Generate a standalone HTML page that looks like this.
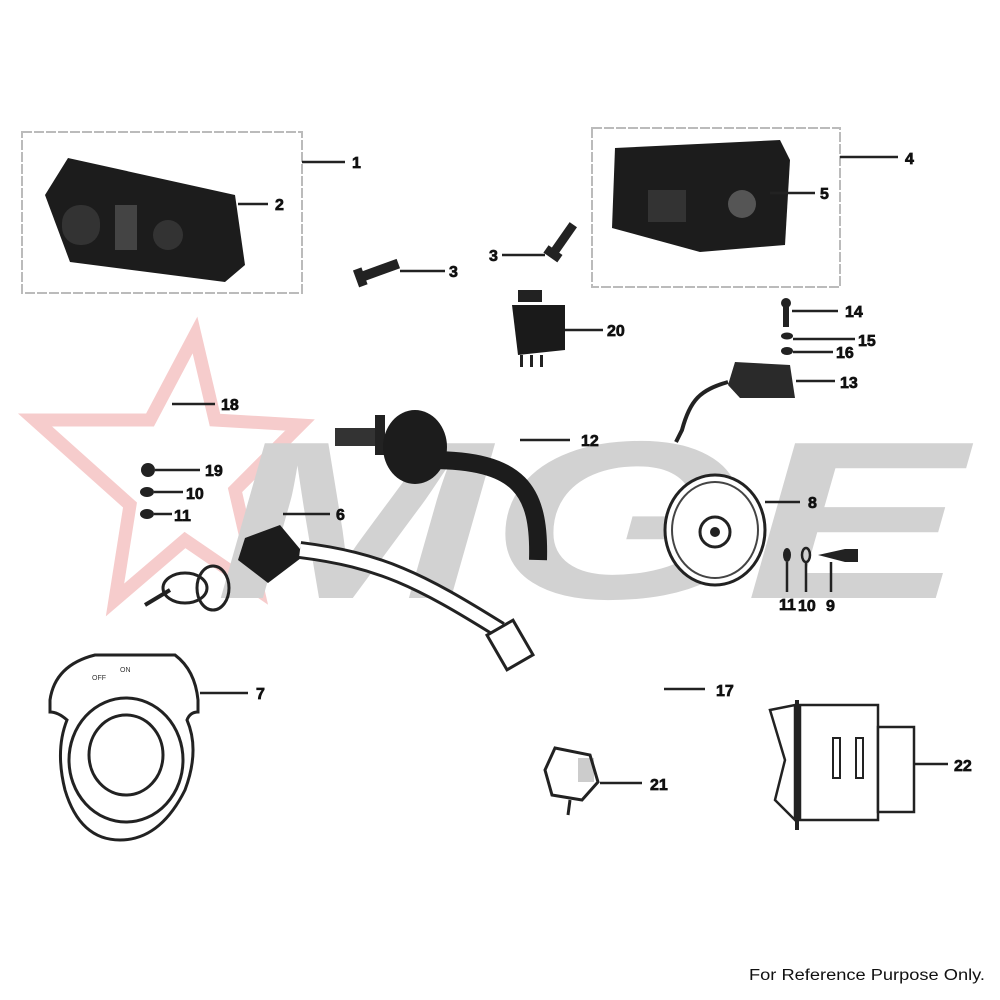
<!DOCTYPE html>
<html><head><meta charset="utf-8"><style>
html,body{margin:0;padding:0;background:#fff;}
svg{display:block;}
.ln{stroke:#222;stroke-width:2.5;}
</style></head><body>
<svg width="1000" height="1000" viewBox="0 0 1000 1000" xmlns="http://www.w3.org/2000/svg">
<polygon points="195,335 215,420 300,425 235,490 258,590 185,540 115,600 130,505 35,420 150,420" fill="none" stroke="#f6cccc" stroke-width="13" stroke-linejoin="miter"/>
<text x="215" y="598" font-family="Liberation Sans,sans-serif" font-style="italic" font-weight="bold" font-size="225" fill="#d2d2d2" textLength="750" lengthAdjust="spacingAndGlyphs">MGE</text>

<g font-family="Liberation Sans,sans-serif" font-weight="bold" font-size="16" fill="#111" stroke="#111" stroke-width="0.7">
<rect x="22" y="132" width="280" height="161" fill="none" stroke="#bbb" stroke-width="2" stroke-dasharray="10,2"/>
<line class="ln" x1="302" y1="162" x2="345" y2="162"/><text x="352" y="168">1</text>
<polygon points="68,158 235,195 245,265 225,282 70,262 45,195" fill="#1c1c1c" stroke="none"/>
<rect x="62" y="205" width="38" height="40" rx="18" fill="#333" stroke="none"/>
<rect x="115" y="205" width="22" height="45" fill="#444" stroke="none"/>
<circle cx="168" cy="235" r="15" fill="#333" stroke="none"/>
<line class="ln" x1="238" y1="204" x2="268" y2="204"/><text x="275" y="210">2</text>
<g transform="rotate(-20 378 272)" stroke="none"><rect x="360" y="266" width="40" height="10" fill="#222"/><rect x="355" y="262" width="9" height="18" fill="#222"/></g>
<line class="ln" x1="400" y1="271" x2="445" y2="271"/><text x="449" y="277">3</text>
<g transform="rotate(-55 562 240)" stroke="none"><rect x="545" y="236" width="36" height="9" fill="#222"/><rect x="541" y="232" width="9" height="17" fill="#222"/></g>
<line class="ln" x1="502" y1="255" x2="545" y2="255"/><text x="489" y="261">3</text>
<rect x="592" y="128" width="248" height="159" fill="none" stroke="#bbb" stroke-width="2" stroke-dasharray="10,2"/>
<line class="ln" x1="840" y1="157" x2="898" y2="157"/><text x="905" y="164">4</text>
<polygon points="615,148 780,140 790,160 785,245 700,252 612,228" fill="#1c1c1c" stroke="none"/>
<rect x="648" y="190" width="38" height="32" fill="#333" stroke="none"/>
<circle cx="742" cy="204" r="14" fill="#555" stroke="none"/>
<line class="ln" x1="770" y1="193" x2="815" y2="193"/><text x="820" y="199">5</text>
<g stroke="none">
<rect x="518" y="290" width="24" height="12" fill="#222"/>
<polygon points="512,305 565,305 565,350 518,355" fill="#1a1a1a"/>
<rect x="520" y="355" width="3" height="12" fill="#222"/><rect x="530" y="355" width="3" height="12" fill="#222"/><rect x="540" y="355" width="3" height="12" fill="#222"/>
<rect x="783" y="302" width="6" height="25" fill="#222"/><circle cx="786" cy="303" r="5" fill="#222"/>
<ellipse cx="787" cy="336" rx="6" ry="3.5" fill="#222"/>
<ellipse cx="787" cy="351" rx="6" ry="4" fill="#222"/>
<polygon points="735,362 790,365 795,398 740,398 728,385" fill="#2a2a2a"/>
<circle cx="148" cy="470" r="7" fill="#222"/>
<ellipse cx="147" cy="492" rx="7" ry="5" fill="#222"/>
<ellipse cx="147" cy="514" rx="7" ry="5" fill="#222"/>
<rect x="335" y="428" width="45" height="18" fill="#333"/>
<rect x="375" y="415" width="10" height="40" fill="#222"/>
<ellipse cx="415" cy="447" rx="32" ry="37" fill="#1c1c1c"/>
<polygon points="245,538 280,525 305,555 268,583 238,560" fill="#1c1c1c"/>
<ellipse cx="787" cy="555" rx="4" ry="7" fill="#222"/>
<polygon points="818,555 845,549 858,549 858,562 845,562" fill="#222"/>
<rect x="578" y="758" width="16" height="24" fill="#ccc"/>
<rect x="795" y="700" width="4" height="130" fill="#222"/>
</g>
<line class="ln" x1="565" y1="330" x2="603" y2="330"/><text x="607" y="336">20</text>
<line class="ln" x1="792" y1="311" x2="838" y2="311"/><text x="845" y="317">14</text>
<line class="ln" x1="793" y1="339" x2="855" y2="339"/><text x="858" y="346">15</text>
<line class="ln" x1="793" y1="352" x2="833" y2="352"/><text x="836" y="358">16</text>
<path d="M728,382 C700,390 690,400 682,430 L676,442" fill="none" stroke="#222" stroke-width="4"/>
<line class="ln" x1="796" y1="381" x2="835" y2="381"/><text x="840" y="388">13</text>
<line class="ln" x1="172" y1="404" x2="215" y2="404"/><text x="221" y="410">18</text>
<line class="ln" x1="155" y1="470" x2="200" y2="470"/><text x="205" y="476">19</text>
<line class="ln" x1="154" y1="492" x2="183" y2="492"/><text x="186" y="499">10</text>
<line class="ln" x1="154" y1="514" x2="172" y2="514"/><text x="174" y="521">11</text>
<path d="M430,460 C520,460 540,490 538,560" fill="none" stroke="#1c1c1c" stroke-width="18"/>
<line class="ln" x1="520" y1="440" x2="570" y2="440"/><text x="581" y="446">12</text>
<line class="ln" x1="283" y1="514" x2="330" y2="514"/><text x="336" y="520">6</text>
<path d="M300,550 C380,560 420,580 500,630" fill="none" stroke="#222" stroke-width="18"/>
<path d="M300,550 C380,560 420,580 500,630" fill="none" stroke="#fff" stroke-width="12"/>
<rect x="495" y="625" width="30" height="40" transform="rotate(-30 510 645)" fill="#fff" stroke="#222" stroke-width="3"/>
<ellipse cx="185" cy="588" rx="22" ry="15" fill="none" stroke="#222" stroke-width="3"/>
<ellipse cx="213" cy="588" rx="16" ry="22" fill="none" stroke="#222" stroke-width="3"/>
<line x1="145" y1="605" x2="170" y2="590" stroke="#222" stroke-width="4"/>
<ellipse cx="715" cy="530" rx="50" ry="55" fill="#fff" stroke="#222" stroke-width="3"/>
<ellipse cx="715" cy="530" rx="43" ry="48" fill="none" stroke="#444" stroke-width="2"/>
<circle cx="715" cy="532" r="15" fill="#fff" stroke="#222" stroke-width="3"/>
<circle cx="715" cy="532" r="5" fill="#222" stroke="none"/>
<line class="ln" x1="765" y1="502" x2="800" y2="502"/><text x="808" y="508">8</text>
<ellipse cx="806" cy="555" rx="4" ry="7" fill="none" stroke="#222" stroke-width="2.5"/>
<line class="ln" x1="787" y1="562" x2="787" y2="592"/><line class="ln" x1="806" y1="562" x2="806" y2="592"/><line class="ln" x1="831" y1="562" x2="831" y2="592"/>
<text x="779" y="610">11</text><text x="798" y="611">10</text><text x="826" y="611">9</text>
<path d="M95,655 L175,655 Q195,670 198,700 L198,712 Q190,712 187,720 Q200,750 185,790 Q160,840 120,840 Q80,840 65,790 Q55,750 67,720 Q58,712 50,712 L50,700 Q55,665 95,655 Z" fill="#fff" stroke="#222" stroke-width="3"/>
<ellipse cx="126" cy="760" rx="57" ry="62" fill="none" stroke="#222" stroke-width="3"/>
<ellipse cx="126" cy="755" rx="37" ry="40" fill="none" stroke="#222" stroke-width="3"/>
<text x="92" y="680" font-weight="normal" font-size="7" fill="#333" stroke="none">OFF</text><text x="120" y="672" font-weight="normal" font-size="7" fill="#333" stroke="none">ON</text>
<line class="ln" x1="200" y1="693" x2="248" y2="693"/><text x="256" y="699">7</text>
<line class="ln" x1="664" y1="689" x2="705" y2="689"/><text x="716" y="696">17</text>
<polygon points="555,748 590,755 598,782 582,800 552,795 545,770" fill="none" stroke="#222" stroke-width="3"/>
<line x1="570" y1="800" x2="568" y2="815" stroke="#222" stroke-width="3"/>
<line class="ln" x1="600" y1="783" x2="642" y2="783"/><text x="650" y="790">21</text>
<polygon points="770,710 795,705 795,820 775,800 785,760" fill="#fff" stroke="#222" stroke-width="2.5"/>
<rect x="800" y="705" width="78" height="115" fill="#fff" stroke="#222" stroke-width="2.5"/>
<rect x="878" y="727" width="36" height="85" fill="#fff" stroke="#222" stroke-width="2.5"/>
<rect x="833" y="738" width="7" height="40" fill="#fff" stroke="#222" stroke-width="2"/>
<rect x="856" y="738" width="7" height="40" fill="#fff" stroke="#222" stroke-width="2"/>
<line class="ln" x1="915" y1="764" x2="948" y2="764"/><text x="954" y="771">22</text>
</g>
<text x="749" y="980" font-family="Liberation Sans,sans-serif" font-size="15.5" fill="#111" textLength="236" lengthAdjust="spacingAndGlyphs">For Reference Purpose Only.</text>
</svg>
</body></html>
